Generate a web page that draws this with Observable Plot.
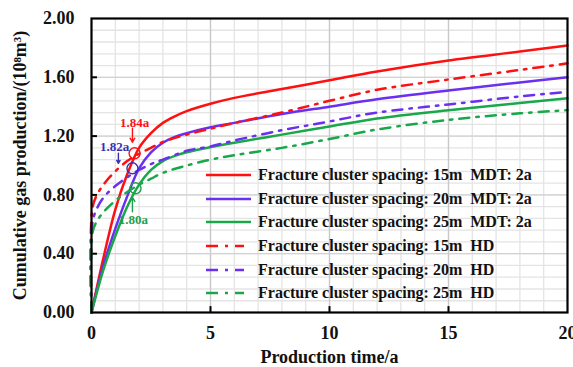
<!DOCTYPE html>
<html>
<head>
<meta charset="utf-8">
<script src="https://cdn.jsdelivr.net/npm/d3@7"></script>
<script src="https://cdn.jsdelivr.net/npm/@observablehq/plot@0.6"></script>
<style>
  html, body { margin: 0; padding: 0; background: #fff; }
  #wrap { position: relative; width: 573px; height: 367px; font-family: "Liberation Serif", "DejaVu Serif", serif; font-weight: bold; }
  #wrap svg text { font-family: "Liberation Serif", "DejaVu Serif", serif; }
  #legend { position: absolute; left: 205px; top: 163px; }
  .row { height: 23.7px; display: flex; align-items: center; white-space: pre; font-size: 16px; color: #111; font-family: "Liberation Serif", "DejaVu Serif", serif; }
  .row svg { margin-right: 7px; }
</style>
</head>
<body>
<div id="wrap"></div>
<script>
// ---- data ----
const tSolid = [0, 0.5, 1, 1.5, 2, 2.5, 3, 3.5, 4, 5, 6, 8, 10, 12, 15, 18, 20];
const red15 = [0, 0.37, 0.70, 0.94, 1.12, 1.22, 1.29, 1.335, 1.37, 1.42, 1.46, 1.52, 1.58, 1.64, 1.715, 1.775, 1.817];
const purple20 = [0, 0.32, 0.57, 0.79, 0.98, 1.09, 1.155, 1.195, 1.22, 1.26, 1.29, 1.35, 1.40, 1.45, 1.51, 1.565, 1.60];
const green25 = [0, 0.29, 0.52, 0.72, 0.87, 0.97, 1.03, 1.065, 1.09, 1.125, 1.155, 1.21, 1.265, 1.32, 1.376, 1.425, 1.457];

const tHD = [0, 0.05, 0.3, 0.6, 1, 1.5, 2, 2.5, 3, 4, 5, 6, 8, 10, 12, 15, 18, 20];
const red15HD = [0, 0.72, 0.82, 0.89, 0.96, 1.03, 1.08, 1.12, 1.16, 1.21, 1.25, 1.29, 1.36, 1.44, 1.515, 1.585, 1.65, 1.695];
const purple20HD = [0, 0.62, 0.73, 0.80, 0.86, 0.92, 0.97, 1.01, 1.04, 1.10, 1.13, 1.17, 1.24, 1.30, 1.36, 1.415, 1.47, 1.50];
const green25HD = [0, 0.55, 0.64, 0.70, 0.76, 0.82, 0.87, 0.91, 0.95, 1.00, 1.04, 1.07, 1.12, 1.18, 1.245, 1.31, 1.355, 1.376];

const seriesLabels = [
  "Fracture cluster spacing: 15m\u00a0 MDT: 2a",
  "Fracture cluster spacing: 20m\u00a0 MDT: 2a",
  "Fracture cluster spacing: 25m\u00a0 MDT: 2a",
  "Fracture cluster spacing: 15m\u00a0 HD",
  "Fracture cluster spacing: 20m\u00a0 HD",
  "Fracture cluster spacing: 25m\u00a0 HD"
];
const seriesColors = ["#ff1010", "#6a2ff0", "#18a84a", "#ff1010", "#6a2ff0", "#18a84a"];
const seriesDash = [null, null, null, "10,7,2.5,7", "10,7,2.5,7", "10,7,2.5,7"];

const yTicks = [0, 0.4, 0.8, 1.2, 1.6, 2.0];
const xTicks = [0, 5, 10, 15, 20];

// annotations (MDT markers)
const annText = ["1.84a", "1.82a", "1.80a"];
const annColor = ["#ff1010", "#3a2fb0", "#1f9e4f"];
const annTextX = [1.81, 0.97, 1.76];
const annTextY = [1.29, 1.13, 0.63];
const circX = [1.81, 1.72, 1.85];
const circY = [1.083, 0.981, 0.845];
const arrX = [1.72, 1.13, 1.72];
const arrY1 = [1.254, 1.083, 0.685];
const arrY2 = [1.158, 1.015, 0.784];

// ---- build tables ----
const sets = [
  [tSolid, red15], [tSolid, purple20], [tSolid, green25],
  [tHD, red15HD], [tHD, purple20HD], [tHD, green25HD]
];
const lineMarks = sets.map(([t, v], i) =>
  Plot.line(t.map((x, j) => ({x, y: v[j]})), {
    x: "x", y: "y", stroke: seriesColors[i], strokeWidth: 2.5,
    strokeDasharray: seriesDash[i] || undefined, curve: "catmull-rom"
  })
);
const ann = annText.map((s, i) => ({
  s, c: annColor[i], tx: annTextX[i], ty: annTextY[i],
  cx: circX[i], cy: circY[i], ax: arrX[i], ay1: arrY1[i], ay2: arrY2[i]
}));

const minorX = d3.range(1, 20, 1);
const majorX = [5, 10, 15];
const minorY = d3.range(1, 25).map(i => +(i * 0.08).toFixed(2));
const majorY = [0.4, 0.8, 1.2, 1.6];

const fontFam = "Liberation Serif";

const chart = Plot.plot({
  width: 573,
  height: 367,
  marginLeft: 91,
  marginRight: 6,
  marginTop: 18,
  marginBottom: 55,
  style: { fontFamily: fontFam, fontSize: "18px", fontWeight: "bold", color: "#111", background: "#fff" },
  x: { domain: [0, 20] },
  y: { domain: [0, 2] },
  marks: [
    Plot.gridX(minorX, { stroke: "#e4e4e4", strokeOpacity: 1, strokeWidth: 1.3 }),
    Plot.gridY(minorY, { stroke: "#e4e4e4", strokeOpacity: 1, strokeWidth: 1.3 }),
    Plot.gridX(majorX, { stroke: "#c9c9c9", strokeOpacity: 1, strokeWidth: 1.3 }),
    Plot.gridY(majorY, { stroke: "#d2d2d2", strokeOpacity: 1, strokeWidth: 1.3 }),
    Plot.axisY(yTicks, {
      tickSize: 0, tickPadding: 17, tickFormat: d3.format(".2f"),
      label: "Cumulative gas production/(10⁸m³)", labelAnchor: "center", labelArrow: "none", labelOffset: 78
    }),
    Plot.axisX(xTicks, {
      tickSize: 0, tickPadding: 14, tickFormat: d3.format("d"),
      label: "Production time/a", labelAnchor: "center", labelArrow: "none", labelOffset: 50
    }),
    Plot.ruleY(majorY, { x1: 0, x2: 0.25, stroke: "#000", strokeWidth: 2 }),
    Plot.ruleX(majorX, { y1: 0, y2: 0.04, stroke: "#000", strokeWidth: 2 }),
    ...lineMarks,
    Plot.dot(ann, { x: "cx", y: "cy", r: 5.5, stroke: "c", fill: "none", strokeWidth: 1.4 }),
    Plot.arrow(ann, { x1: "ax", y1: "ay1", x2: "ax", y2: "ay2", stroke: "c", strokeWidth: 1.4, headLength: 6 }),
    Plot.text(ann, { x: "tx", y: "ty", text: "s", fill: "c", fontSize: 13, fontWeight: "bold" }),
    Plot.frame({ stroke: "#000", strokeWidth: 2.2 })
  ]
});

const wrap = document.getElementById("wrap");
wrap.appendChild(chart);

// legend inside plot area
const legend = document.createElement("div");
legend.id = "legend";
seriesLabels.forEach((lab, i) => {
  const row = document.createElement("div");
  row.className = "row";
  const ns = "http://www.w3.org/2000/svg";
  const s = document.createElementNS(ns, "svg");
  s.setAttribute("width", 46);
  s.setAttribute("height", 10);
  const l = document.createElementNS(ns, "line");
  l.setAttribute("x1", 1); l.setAttribute("x2", seriesDash[i] ? 39 : 46);
  l.setAttribute("y1", 5); l.setAttribute("y2", 5);
  l.setAttribute("stroke", seriesColors[i]);
  l.setAttribute("stroke-width", 2.6);
  if (seriesDash[i]) l.setAttribute("stroke-dasharray", "12,7,3,7");
  s.appendChild(l);
  row.appendChild(s);
  const span = document.createElement("span");
  span.textContent = lab;
  row.appendChild(span);
  legend.appendChild(row);
});
wrap.appendChild(legend);
</script>
</body>
</html>
